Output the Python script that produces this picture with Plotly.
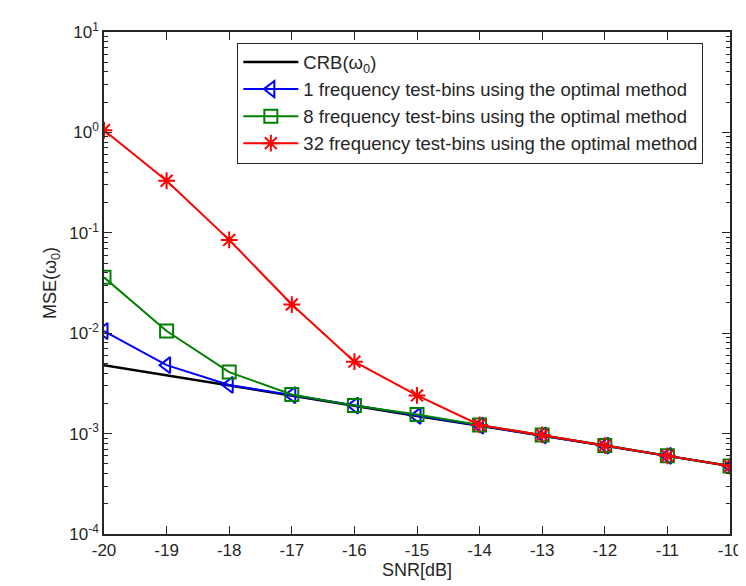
import plotly.graph_objects as go

snr = [-20, -19, -18, -17, -16, -15, -14, -13, -12, -11, -10]
snr_labels = ["-20", "-19", "-18", "-17", "-16", "-15", "-14", "-13", "-12", "-11", "-10"]
crb = [4.8e-3, 3.8e-3, 3.0e-3, 2.4e-3, 1.9e-3, 1.5e-3, 1.2e-3, 9.6e-4, 7.6e-4, 6.0e-4, 4.75e-4]
bins1 = [1.05e-2, 4.8e-3, 3.05e-3, 2.42e-3, 1.9e-3, 1.5e-3, 1.2e-3, 9.6e-4, 7.6e-4, 6.0e-4, 4.75e-4]
bins8 = [3.6e-2, 1.05e-2, 4.1e-3, 2.45e-3, 1.9e-3, 1.55e-3, 1.22e-3, 9.7e-4, 7.6e-4, 6.0e-4, 4.75e-4]
bins32 = [1.05, 0.33, 0.085, 0.0193, 0.0052, 0.0024, 1.22e-3, 9.7e-4, 7.6e-4, 6.0e-4, 4.75e-4]

names = [
    "CRB(ω<sub>0</sub>)",
    "1 frequency test-bins using the optimal method",
    "8 frequency test-bins using the optimal method",
    "32 frequency test-bins using the optimal method",
]
ytickvals = [1e-4, 1e-3, 1e-2, 1e-1, 1, 10]
yticktext = ["10<sup>-4</sup>", "10<sup>-3</sup>", "10<sup>-2</sup>", "10<sup>-1</sup>", "10<sup>0</sup>", "10<sup>1</sup>"]
minor_vals = [k * 10.0 ** e for e in range(-4, 1) for k in range(2, 10)]

AX = "#262626"
FONT = "Liberation Sans, Arial, sans-serif"

fig = go.Figure()
# invisible helper trace so the minor-tick overlay axis is drawn
fig.add_trace(go.Scatter(x=snr, y=crb, yaxis="y2", mode="lines",
                         line=dict(width=0), showlegend=False, hoverinfo="skip"))
fig.add_trace(go.Scatter(x=snr, y=crb, mode="lines", name=names[0],
                         line=dict(color="black", width=2.5)))
fig.add_trace(go.Scatter(x=snr, y=bins1, mode="lines+markers", name=names[1],
                         line=dict(color="#0000ff", width=2),
                         marker=dict(symbol="triangle-left-open", size=14,
                                     color="#0000ff", line=dict(width=2, color="#0000ff"))))
fig.add_trace(go.Scatter(x=snr, y=bins8, mode="lines+markers", name=names[2],
                         line=dict(color="#008000", width=2),
                         marker=dict(symbol="square-open", size=13,
                                     color="#008000", line=dict(width=2, color="#008000"))))
fig.add_trace(go.Scatter(x=snr, y=bins32, mode="lines+markers", name=names[3],
                         line=dict(color="#ff0000", width=2),
                         marker=dict(symbol="asterisk-open", size=14,
                                     color="#ff0000", line=dict(width=2, color="#ff0000"))))

fig.update_layout(
    width=746, height=586,
    margin=dict(l=96, r=12, t=23, b=60),
    paper_bgcolor="white", plot_bgcolor="white",
    font=dict(family=FONT, size=16, color=AX),
    xaxis=dict(range=[-20, -10], tickvals=snr, ticktext=snr_labels, ticklen=8,
               showline=True, linecolor=AX, linewidth=1.5, mirror="ticks",
               ticks="inside", tickcolor=AX, tickwidth=1.3, showgrid=False, zeroline=False,
               tickfont=dict(family=FONT, size=17, color=AX),
               title=dict(text="SNR[dB]", font=dict(size=18), standoff=4)),
    yaxis=dict(type="log", range=[-4, 1], tickvals=ytickvals, ticktext=yticktext, ticklen=8,
               showline=True, linecolor=AX, linewidth=1.5, mirror="ticks",
               ticks="inside", tickcolor=AX, tickwidth=1.3, showgrid=False, zeroline=False,
               tickfont=dict(family=FONT, size=17, color=AX),
               title=dict(text="MSE(ω<sub>0</sub>)", font=dict(size=18), standoff=8)),
    yaxis2=dict(type="log", range=[-4, 1], overlaying="y", side="left",
                tickvals=minor_vals, ticks="inside", ticklen=4, tickcolor=AX, tickwidth=1.2,
                showline=True, linecolor=AX, linewidth=1.5, mirror="ticks",
                showticklabels=False, showgrid=False, zeroline=False),
    legend=dict(x=0.213, y=0.979, xanchor="left", yanchor="top",
                bgcolor="white", bordercolor=AX, borderwidth=1,
                font=dict(size=18.5, color=AX), itemwidth=55),
    showlegend=True,
)

fig.write_html("out.html")
